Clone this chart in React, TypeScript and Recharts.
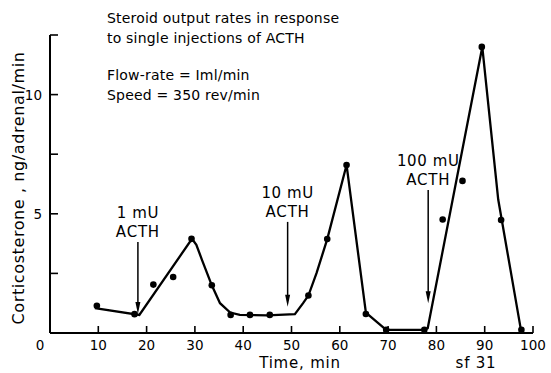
import React from "react";
import {
  ComposedChart,
  Line,
  Scatter,
  XAxis,
  YAxis,
  ReferenceLine,
} from "recharts";

// Observed output rates (dots)
const obsTime = [9.7, 17.5, 21.4, 25.5, 29.3, 33.5, 37.4, 41.4, 45.5, 53.5, 57.4, 61.4, 65.4, 69.6, 77.5, 81.3, 85.4, 89.4, 93.4, 97.6];
const obsValue = [1.14, 0.79, 2.03, 2.35, 3.95, 2.0, 0.76, 0.76, 0.76, 1.57, 3.94, 7.05, 0.8, 0.13, 0.13, 4.76, 6.38, 12.0, 4.74, 0.13];

// Hand-drawn response curve
const curveTime = [9.3, 18.5, 29.4, 30.3, 31.5, 33.5, 35.2, 37.3, 39.3, 45.0, 50.7, 52.4, 53.5, 55.2, 57.4, 61.4, 65.4, 69.6, 77.5, 78.2, 89.5, 92.8, 97.5];
const curveValue = [1.04, 0.76, 3.95, 3.7, 3.05, 2.0, 1.25, 0.86, 0.76, 0.74, 0.79, 1.25, 1.57, 2.52, 3.94, 7.05, 0.85, 0.13, 0.13, 0.2, 12.0, 5.6, 0.13];

// ACTH injections
const doseLabels = ["1 mU", "10 mU", "100 mU"];
const doseTime = [18.2, 49.2, 78.3];
const doseArrowTop = [3.82, 4.66, 6.0];
const doseArrowBottom = [0.8, 1.1, 1.25];

const xTicks = [0, 10, 20, 30, 40, 50, 60, 70, 80, 90, 100];
const yTicks = [0, 2.5, 5, 7.5, 10, 12.5];
const yLabelled = [5, 10];

const curveData = curveTime.map((t, i) => ({ t, v: curveValue[i] }));
const obsData = obsTime.map((t, i) => ({ t, v: obsValue[i] }));

const FONT = "'DejaVu Sans', sans-serif";

const XTick = (props: any) => {
  const { x, y, payload } = props;
  const v = payload.value;
  return (
    <g>
      {v !== 0 && <line x1={x} y1={y} x2={x} y2={y - 7} stroke="#000" strokeWidth={1.6} />}
      <text x={v === 0 ? x - 10 : x} y={y + 17} textAnchor="middle" fontSize={13.5} fontFamily={FONT} fill="#000">
        {v}
      </text>
    </g>
  );
};

const YTick = (props: any) => {
  const { x, y, payload } = props;
  const v = payload.value;
  if (v === 0) return <g />;
  return (
    <g>
      <line x1={x} y1={y} x2={x + 8} y2={y} stroke="#000" strokeWidth={1.6} />
      {yLabelled.includes(v) && (
        <text x={x - 8} y={y + 5} textAnchor="end" fontSize={13.5} fontFamily={FONT} fill="#000">
          {v}
        </text>
      )}
    </g>
  );
};

const makeArrow = (label: string) => (props: any) => {
  const { x1, y1, y2 } = props;
  const top = Math.min(y1, y2);
  const bot = Math.max(y1, y2);
  return (
    <g>
      <line x1={x1} y1={top} x2={x1} y2={bot - 6} stroke="#000" strokeWidth={1.5} />
      <polygon points={`${x1},${bot} ${x1 - 2.5},${bot - 12} ${x1 + 2.5},${bot - 12}`} fill="#000" />
      <text x={x1} y={top - 24} textAnchor="middle" fontSize={15} letterSpacing={0.6} fontFamily={FONT} fill="#000">
        {label}
      </text>
      <text x={x1} y={top - 5} textAnchor="middle" fontSize={15} letterSpacing={0.8} fontFamily={FONT} fill="#000">
        ACTH
      </text>
    </g>
  );
};

export default function App() {
  return (
    <div style={{ position: "relative", width: 551, height: 373, background: "#fff" }}>
      <style>{`body{margin:0;background:#fff}`}</style>
      <ComposedChart
        width={551}
        height={373}
        margin={{ top: 35, right: 18, bottom: 0, left: 0 }}
      >
        <XAxis
          type="number"
          dataKey="t"
          domain={[0, 100]}
          ticks={xTicks}
          tickSize={0}
          tickMargin={0}
          height={40}
          axisLine={{ stroke: "#000", strokeWidth: 2 }}
          tickLine={false}
          tick={<XTick />}
          allowDataOverflow
        />
        <YAxis
          type="number"
          dataKey="v"
          domain={[0, 12.5]}
          ticks={yTicks}
          tickSize={0}
          tickMargin={0}
          width={50}
          axisLine={{ stroke: "#000", strokeWidth: 2 }}
          tickLine={false}
          tick={<YTick />}
          allowDataOverflow
        />
        {doseLabels.map((lab, i) => (
          <ReferenceLine
            key={lab}
            segment={[
              { x: doseTime[i], y: doseArrowTop[i] },
              { x: doseTime[i], y: doseArrowBottom[i] },
            ]}
            shape={makeArrow(lab)}
            ifOverflow="visible"
          />
        ))}
        <Line
          data={curveData}
          dataKey="v"
          type="linear"
          stroke="#000"
          strokeWidth={2.3}
          dot={false}
          activeDot={false}
          isAnimationActive={false}
        />
        <Scatter
          data={obsData}
          dataKey="v"
          fill="#000"
          shape={(p: any) => <circle cx={p.cx} cy={p.cy} r={3.3} fill="#000" />}
          isAnimationActive={false}
        />
      </ComposedChart>
      <svg width={551} height={373} style={{ position: "absolute", left: 0, top: 0, pointerEvents: "none" }}>
        <g fontFamily={FONT} fontSize={14} letterSpacing={0.2} fill="#000">
          <text x={107} y={23}>Steroid output rates in response</text>
          <text x={107} y={43}>to single injections of ACTH</text>
          <text x={107} y={80}>Flow-rate = Iml/min</text>
          <text x={107} y={100}>Speed = 350 rev/min</text>
        </g>
        <text
          transform="translate(24,188) rotate(-90)"
          textAnchor="middle"
          fontFamily={FONT}
          fontSize={16}
          letterSpacing={0.6}
          fill="#000"
        >
          Corticosterone ,  ng/adrenal/min
        </text>
        <text x={300} y={368} textAnchor="middle" fontFamily={FONT} fontSize={15} letterSpacing={0.8} fill="#000">
          Time,  min
        </text>
        <text x={476} y={368} textAnchor="middle" fontFamily={FONT} fontSize={15} letterSpacing={0.8} fill="#000">
          sf 31
        </text>
      </svg>
    </div>
  );
}
